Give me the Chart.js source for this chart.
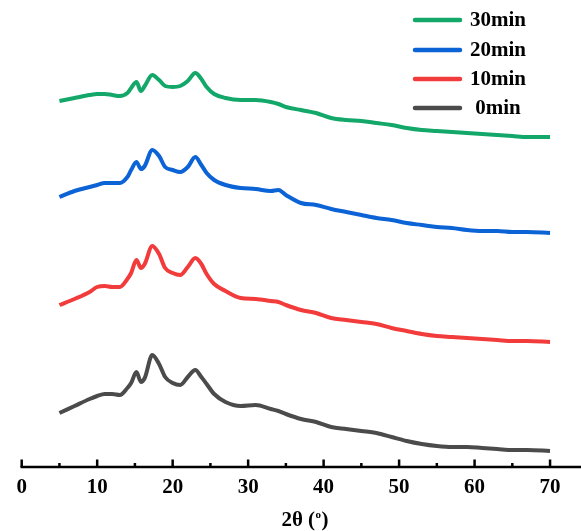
<!DOCTYPE html>
<html><head><meta charset="utf-8">
<script src="https://cdn.jsdelivr.net/npm/chart.js@4/dist/chart.umd.min.js"></script>
<style>html,body{margin:0;padding:0;background:#fff}#wrap{width:581px;height:531px}</style>
</head><body><div id="wrap"><canvas id="c" width="581" height="531"></canvas></div>
<script>
// 2θ sampling positions (degrees)
const twoTheta = [5,7,9,10,11,12,13,14,14.5,15.2,15.8,16.3,17.3,18.2,19,20,21,22,23,23.8,24.5,25.5,27,29,31,33,34,35,37,39,41,43,45,47,49,51,53,55,57,59,61,63,65,67,70];
// Intensities (a.u., stacked with offsets as in the figure)
const int0min  = [54,61,68,71,73,73,72,79,84,95,85,89,112,103,90,84,82,90,97,90,83,73,65,61,62,58,56,53,48,45,40,38,36,34,30,26,23,21,20,20,19,18,17,17,16];
const int10min = [162,168,175,180,181,180,180,188,194,207,199,203,221,213,199,194,192,200,209,203,193,183,176,169,168,166,165,162,157,154,149,147,145,143,139,136,133,131,130,129,128,127,126,126,125];
const int20min = [270,276,280,282,284,284,284,290,297,305,298,301,317,311,300,297,295,300,310,302,294,287,282,279,278,276,277,272,264,262,258,255,252,249,247,244,242,240,239,237,236,236,235,235,234];
const int30min = [366,369,372,373,373,372,371,374,379,385,376,381,392,387,381,380,381,386,394,388,380,373,369,367,367,365,363,360,357,354,349,347,346,344,342,339,337,336,335,334,333,332,331,330,330];
const seriesNames = ['0min','10min','20min','30min'];
const seriesColors = ['#4b4b4b','#f23c3c','#0b63d5','#13a86a'];
const xTicks = [0,10,20,30,40,50,60,70];
const xMinorTicks = [5,15,25,35,45,55,65];
const xMin = 0, xMax = 74.1, yMin = 0, yMax = 467;

const seriesData = [int0min,int10min,int20min,int30min];
const datasets = seriesData.map((arr,i)=>({
  label: seriesNames[i],
  data: arr.map((v,j)=>({x: twoTheta[j], y: v})),
  borderColor: seriesColors[i],
  backgroundColor: seriesColors[i],
  borderWidth: 4,
  pointRadius: 0,
  tension: 0.25,
  cubicInterpolationMode: 'monotone',
  fill: false
}));

const FONT = "'Liberation Serif','Times New Roman',serif";

const decor = {
  id: 'decor',
  afterDraw(chart){
    const ctx = chart.ctx, xs = chart.scales.x, ca = chart.chartArea;
    const yb = ca.bottom;
    ctx.save();
    ctx.strokeStyle = '#000';
    ctx.lineWidth = 2.5;
    ctx.lineCap = 'butt';
    // axis line
    ctx.beginPath();
    ctx.moveTo(xs.getPixelForValue(0)-1.2, yb);
    ctx.lineTo(chart.width, yb);
    ctx.stroke();
    // major ticks (inward)
    xTicks.forEach(v=>{
      const p = xs.getPixelForValue(v);
      ctx.beginPath(); ctx.moveTo(p, yb); ctx.lineTo(p, yb-7.5); ctx.stroke();
    });
    xMinorTicks.forEach(v=>{
      const p = xs.getPixelForValue(v);
      ctx.beginPath(); ctx.moveTo(p, yb); ctx.lineTo(p, yb-4); ctx.stroke();
    });
    // axis title 2θ (°)
    ctx.fillStyle = '#000';
    ctx.textBaseline = 'middle';
    ctx.textAlign = 'left';
    ctx.font = 'bold 21px ' + FONT;
    const t1 = '2θ (', sup = 'o', t2 = ')';
    const w1 = ctx.measureText(t1).width;
    ctx.font = 'bold 11px ' + FONT;
    const ws = ctx.measureText(sup).width;
    ctx.font = 'bold 21px ' + FONT;
    const w2 = ctx.measureText(t2).width;
    const total = w1 + ws + 1 + w2;
    let x0 = 305 - total/2;
    const ty = 521;
    ctx.fillText(t1, x0, ty);
    ctx.font = 'bold 11px ' + FONT;
    ctx.fillText(sup, x0 + w1 + 0.5, ty - 6);
    ctx.font = 'bold 21px ' + FONT;
    ctx.fillText(t2, x0 + w1 + ws + 1, ty);
    // legend (top to bottom: 30min .. 0min)
    const rows = [20, 50, 79, 108];
    for (let k = 0; k < 4; k++){
      const i = 3 - k;
      const y = rows[k];
      ctx.strokeStyle = seriesColors[i];
      ctx.lineWidth = 4.5;
      ctx.lineCap = 'round';
      ctx.beginPath(); ctx.moveTo(415, y); ctx.lineTo(460, y); ctx.stroke();
      ctx.fillStyle = '#000';
      ctx.font = 'bold 21px ' + FONT;
      ctx.textAlign = 'left';
      ctx.fillText(seriesNames[i].padStart(5,' '), 470, y + 1);
    }
    ctx.restore();
  }
};

new Chart(document.getElementById('c'), {
  type: 'line',
  data: { datasets },
  options: {
    responsive: false,
    animation: false,
    devicePixelRatio: 1,
    layout: { padding: { left: 21.7, right: 0, top: 0, bottom: 0 } },
    plugins: { legend: { display: false }, tooltip: { enabled: false } },
    scales: {
      x: {
        type: 'linear', min: xMin, max: xMax,
        grid: { display: false, drawTicks: false },
        border: { display: false },
        afterBuildTicks(scale){ scale.ticks = xTicks.map(v=>({value:v})); },
        afterFit(scale){ scale.height = 64; },
        ticks: {
          padding: 8,
          color: '#000',
          maxRotation: 0,
          autoSkip: false,
          font: { family: FONT, size: 21, weight: 'bold' },
          callback: v => String(v)
        }
      },
      y: { type: 'linear', display: false, min: yMin, max: yMax }
    }
  },
  plugins: [decor]
});
</script>
</body></html>
